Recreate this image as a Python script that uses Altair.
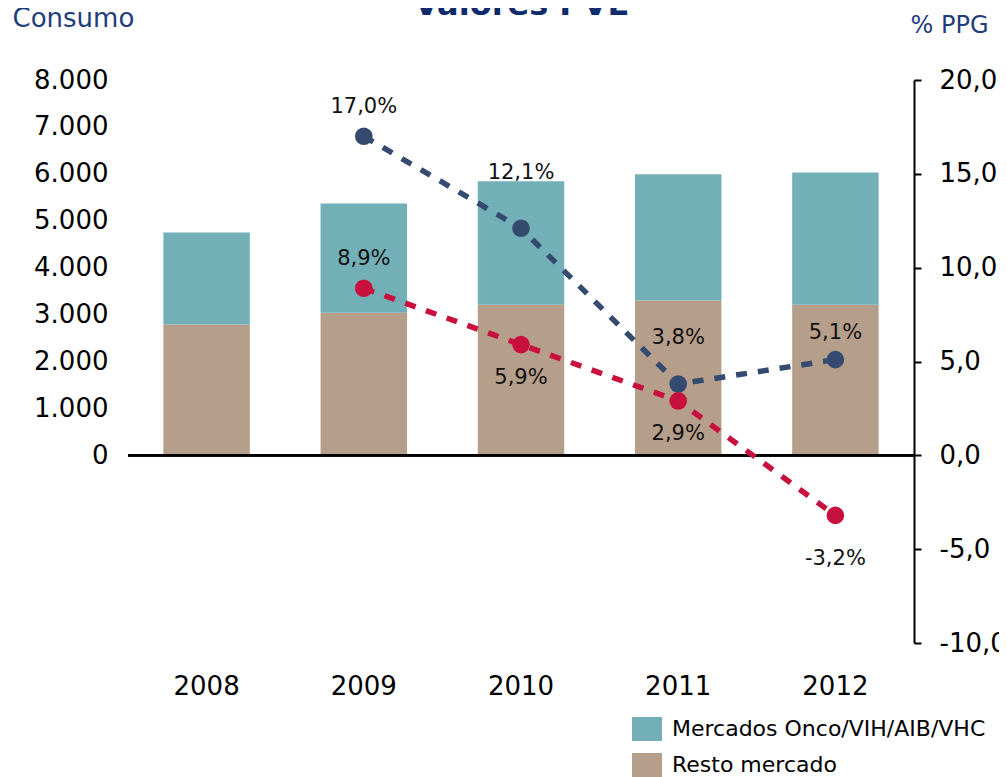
import altair as alt
import pandas as pd

# ---------------- data ----------------
years = ["2008", "2009", "2010", "2011", "2012"]
resto_mercado = [2790, 3040, 3210, 3300, 3210]
mercados_onco = [1960, 2330, 2630, 2690, 2820]
series_names = ["Mercados Onco/VIH/AIB/VHC", "Resto mercado"]

pct_years = ["2009", "2010", "2011", "2012"]
pct_onco = [17.0, 12.1, 3.8, 5.1]
pct_resto = [8.9, 5.9, 2.9, -3.2]

left_ticks = [0, 1000, 2000, 3000, 4000, 5000, 6000, 7000, 8000]
right_ticks = [-10, -5, 0, 5, 10, 15, 20]

# ---------------- style ----------------
label_dy_onco = [-29, -55, -46, -27]
label_dy_resto = [-29, 33, 33, 44]
TEAL = "#73afb6"
TAN = "#b59e8a"
BLUE = "#344b6f"
RED = "#c8103e"
NAVY = "#1f3c7c"
FONT = "DejaVu Sans"

# ---------------- tables ----------------
bar_rows = []
for i, y in enumerate(years):
    bar_rows.append({"year": y, "series": series_names[1], "value": resto_mercado[i], "rank": 0})
    bar_rows.append({"year": y, "series": series_names[0], "value": mercados_onco[i], "rank": 1})
bar_df = pd.DataFrame(bar_rows)

def fmt_pct(v):
    return f"{v:.1f}".replace(".", ",") + "%"

line_rows = []
for i, y in enumerate(pct_years):
    line_rows.append({"year": y, "serie": "onco", "pct": pct_onco[i], "label": fmt_pct(pct_onco[i]),
                      "id": f"onco{i}", "k": 0})
for i, y in enumerate(pct_years):
    line_rows.append({"year": y, "serie": "resto", "pct": pct_resto[i], "label": fmt_pct(pct_resto[i]),
                      "id": f"resto{i}", "k": 1})
line_df = pd.DataFrame(line_rows)
label_dy = {f"onco{i}": d for i, d in enumerate(label_dy_onco)}
label_dy.update({f"resto{i}": d for i, d in enumerate(label_dy_resto)})

x_enc = alt.X(
    "year:N",
    sort=years,
    scale=alt.Scale(domain=years, paddingInner=0.45, paddingOuter=0.225),
    axis=alt.Axis(title=None, labelAngle=0, domain=False, ticks=False, grid=False, labelPadding=30,
                  labelFontSize=26, labelFont=FONT, labelColor="black"),
)

bars = alt.Chart(bar_df).mark_bar().encode(
    x=x_enc,
    y=alt.Y(
        "value:Q",
        stack="zero",
        scale=alt.Scale(domain=[-4000, 8000], nice=False, zero=False),
        axis=alt.Axis(
            orient="left", values=left_ticks, grid=False, domain=False, ticks=False, tickSize=0,
            labelPadding=20, labelFontSize=26, labelFont=FONT, labelColor="black",
            labelExpr="replace(format(datum.value, ',d'), ',', '.')",
            title="Consumo", titleAngle=0, titleAlign="left", titleBaseline="middle",
            titleX=-116, titleY=-62, titleFontSize=26, titleFont=FONT, titleFontWeight="normal",
            titleColor=NAVY,
        ),
    ),
    color=alt.Color(
        "series:N",
        scale=alt.Scale(domain=series_names, range=[TEAL, TAN]),
        legend=alt.Legend(
            title=None, orient="none", legendX=507, legendY=637,
            symbolType="M-1.25,-1L1.25,-1L1.25,1L-1.25,1Z", symbolSize=576,
            symbolStrokeWidth=0, labelFontSize=22, labelFont=FONT, labelColor="black",
            labelOffset=13, rowPadding=12, padding=0, labelLimit=500,
        ),
    ),
    order=alt.Order("rank:Q", sort="ascending"),
)

zero_rule = alt.Chart(bar_df).mark_rule(color="black", strokeWidth=2).encode(y=alt.datum(0))

left_group = alt.layer(bars, zero_rule)

y_pct = alt.Y(
    "pct:Q",
    scale=alt.Scale(domain=[-10, 20], nice=False, zero=False),
    axis=alt.Axis(
        orient="right", values=right_ticks, grid=False, domain=True, domainColor="black",
        domainWidth=2, ticks=True, tickColor="black", tickWidth=2, tickSize=7,
        labelPadding=18, labelFontSize=26, labelFont=FONT, labelColor="black",
        labelExpr="replace(replace(format(datum.value, '.1f'), '.', ','), '\u2212', '-')",
        title="% PPG", titleAngle=0, titleAlign="right", titleBaseline="middle",
        titleX=74, titleY=-55, titleFontSize=24, titleFont=FONT, titleFontWeight="normal",
        titleColor=NAVY,
    ),
)
line_color = alt.Color("serie:N", scale=alt.Scale(domain=["onco", "resto"], range=[BLUE, RED]), legend=None)

base = alt.Chart(line_df)
x_line = alt.X("year:N", sort=years)
lines = base.mark_line(strokeWidth=5.5, strokeDash=[11, 11], strokeCap="butt").encode(
    x=x_line, y=y_pct, color=line_color, detail="serie:N"
)
points = base.mark_point(filled=True, size=310, opacity=1, shape="circle").encode(
    x=x_line, y=y_pct, color=line_color, order="k:Q"
)
text_layers = []
for pid, d in label_dy.items():
    text_layers.append(
        base.transform_filter(alt.datum.id == pid)
        .mark_text(fontSize=21, font=FONT, color="#111111", baseline="middle", align="center", dy=d)
        .encode(x=x_line, y=y_pct, text="label:N")
    )
right_group = alt.layer(lines, points, *text_layers)

chart = (
    alt.layer(left_group, right_group)
    .resolve_scale(y="independent", color="independent")
    .properties(
        width=786,
        height=563,
        autosize=alt.AutoSizeParams(type="none"),
        padding={"left": 120, "top": 72, "right": 85, "bottom": 134},
        title=alt.TitleParams("Valores PVL", fontSize=32, font=FONT, fontWeight="bold",
                              color="#0f2b6b", anchor="middle", dy=21),
    )
    .configure(font=FONT)
    .configure_view(stroke=None)
)

chart.save("out.html", embed_options={"renderer": "svg", "actions": False})
